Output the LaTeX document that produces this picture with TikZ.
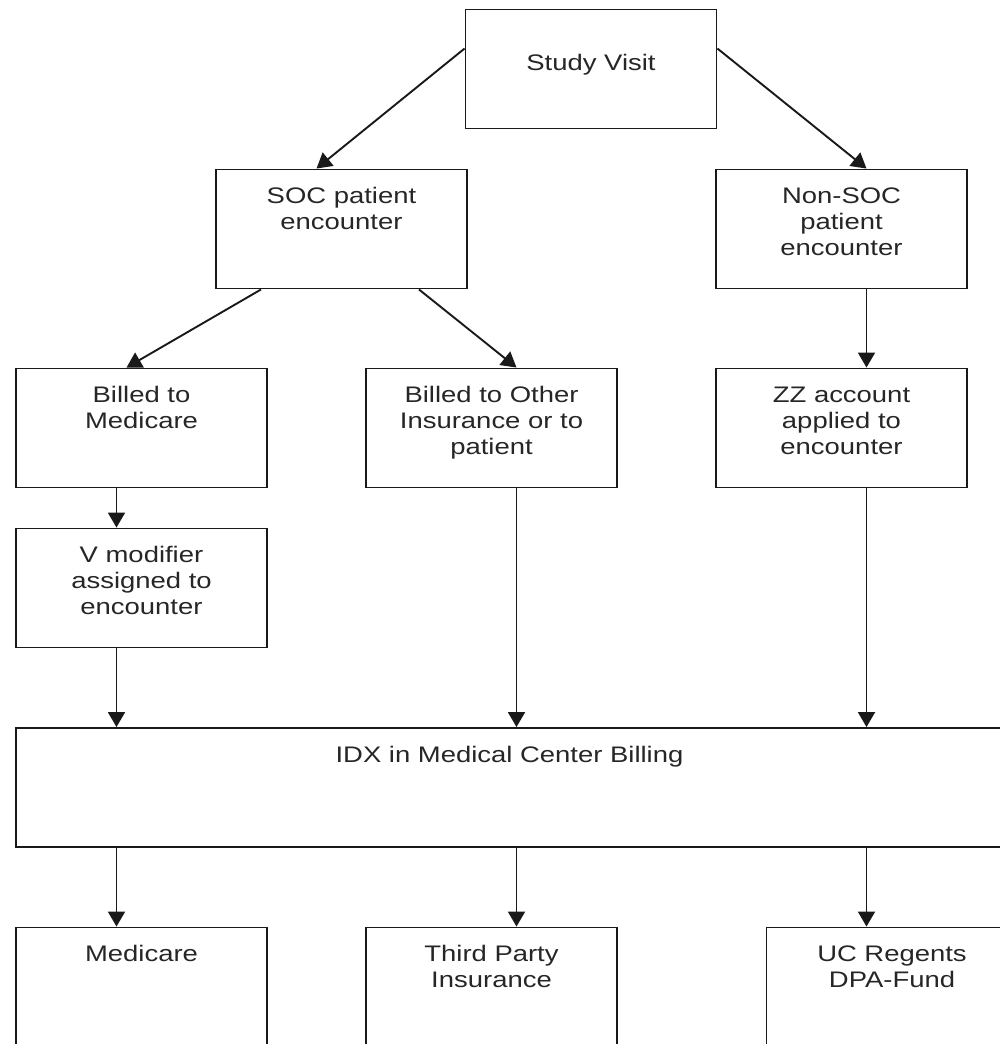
\documentclass[tikz,border=0pt]{standalone}
\usepackage{fontspec}
\setmainfont{Liberation Sans}[FakeStretch=1.22]
\usetikzlibrary{arrows.meta}
\tikzset{
  blk/.style={draw=black!90, line width=1.9pt, inner sep=0pt, minimum width=251pt, minimum height=119pt},
  lbl/.style={anchor=north, inner sep=0pt, align=center, text=black!85, font=\fontsize{22.5}{26}\selectfont},
  arr/.style={draw=black!90, line width=1.9pt, -{Triangle[length=15pt,width=17pt]}}
}
\newcommand\fl{\rule{0pt}{20pt}}
\begin{document}
\begin{tikzpicture}[x=1pt,y=-1pt]
\useasboundingbox (0,0) rectangle (1000,1044);
\clip (0,0) rectangle (1000,1044);
\node[blk] (sv) at (591,69) {};
\node[blk] (soc) at (341.5,229) {};
\node[blk] (nsoc) at (841.5,229) {};
\node[blk] (bm) at (141.5,428) {};
\node[blk] (bo) at (491.5,428) {};
\node[blk] (zz) at (841.5,428) {};
\node[blk] (vm) at (141.5,588) {};
\node[blk, minimum width=987pt] (idx) at (509.5,787.5) {};
\node[blk] (med) at (141.5,987) {};
\node[blk] (tp) at (491.5,987) {};
\node[blk] (uc) at (892,987) {};

\node[lbl] (tsv) at ([yshift=-42pt]sv.north) {\fl Study Visit};
\node[lbl] (tsoc) at ([yshift=-15pt]soc.north) {\fl SOC patient\\encounter};
\node[lbl] (tnsoc) at ([yshift=-15pt]nsoc.north) {\fl Non-SOC\\patient\\encounter};
\node[lbl] (tbm) at ([yshift=-15pt]bm.north) {\fl Billed to\\Medicare};
\node[lbl] (tbo) at ([yshift=-15pt]bo.north) {\fl Billed to Other\\Insurance or to\\patient};
\node[lbl] (tzz) at ([yshift=-15pt]zz.north) {\fl ZZ account\\applied to\\encounter};
\node[lbl] (tvm) at ([yshift=-15pt]vm.north) {\fl V modifier\\assigned to\\encounter};
\node[lbl] (tidx) at ([yshift=-15pt]idx.north) {\fl IDX in Medical Center Billing};
\node[lbl] (tmed) at ([yshift=-15pt]med.north) {\fl Medicare};
\node[lbl] (ttp) at ([yshift=-15pt]tp.north) {\fl Third Party\\Insurance};
\node[lbl] (tuc) at ([yshift=-15pt]uc.north) {\fl UC Regents\\DPA-Fund};

\coordinate (xa) at ([xshift=-25pt]vm.south);
\coordinate (xb) at ([xshift=25pt]bo.south);
\coordinate (xc) at ([xshift=25pt]zz.south);

\draw[arr] ([yshift=-40pt]sv.north west) -- ([xshift=-25pt]soc.north);
\draw[arr] ([yshift=-40pt]sv.north east) -- ([xshift=25pt]nsoc.north);
\draw[arr] ([xshift=46pt]soc.south west) -- ([xshift=-15pt]bm.north);
\draw[arr] ([xshift=-49pt]soc.south east) -- ([xshift=25pt]bo.north);
\draw[arr] ([xshift=25pt]nsoc.south) -- ([xshift=25pt]zz.north);
\draw[arr] ([xshift=-25pt]bm.south) -- ([xshift=-25pt]vm.north);
\draw[arr] (xa) -- (xa |- idx.north);
\draw[arr] (xb) -- (xb |- idx.north);
\draw[arr] (xc) -- (xc |- idx.north);
\draw[arr] (xa |- idx.south) -- (xa |- med.north);
\draw[arr] (xb |- idx.south) -- (xb |- tp.north);
\draw[arr] (xc |- idx.south) -- (xc |- uc.north);
\end{tikzpicture}
\end{document}
